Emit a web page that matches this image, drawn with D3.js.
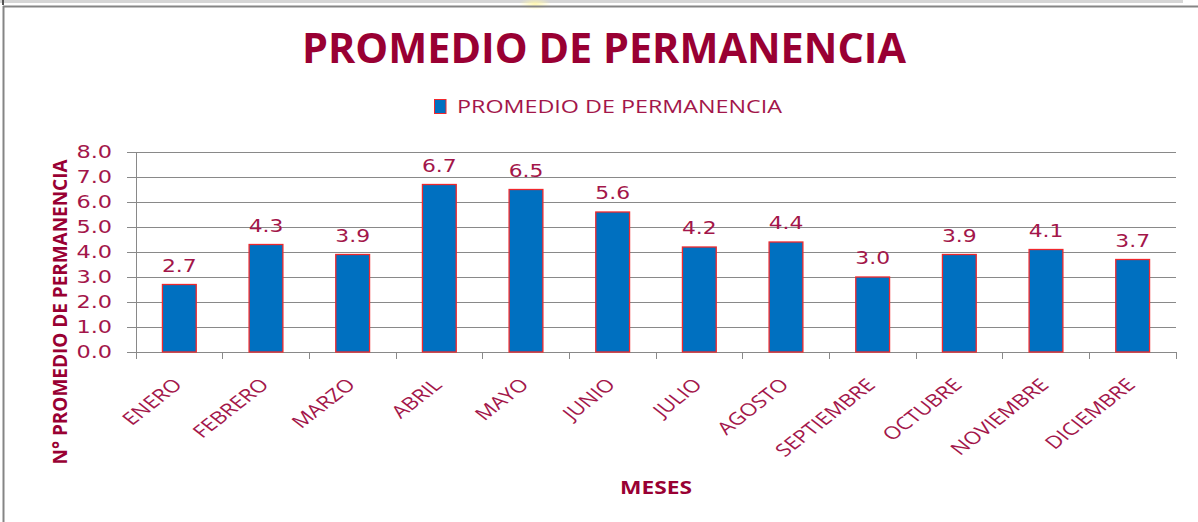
<!DOCTYPE html>
<html>
<head>
<meta charset="utf-8">
<script src="https://cdn.jsdelivr.net/npm/d3@7"></script>
<style>
  html, body { margin: 0; padding: 0; background: #ffffff; }
  svg { display: block; }
</style>
</head>
<body>
<script>
// Monthly average length of stay
const months = ["ENERO", "FEBRERO", "MARZO", "ABRIL", "MAYO", "JUNIO",
                "JULIO", "AGOSTO", "SEPTIEMBRE", "OCTUBRE", "NOVIEMBRE", "DICIEMBRE"];
const promedio = [2.7, 4.3, 3.9, 6.7, 6.5, 5.6, 4.2, 4.4, 3.0, 3.9, 4.1, 3.7];
const yTicks = [0, 1, 2, 3, 4, 5, 6, 7, 8];

const chartTitle = "PROMEDIO DE PERMANENCIA";
const seriesName = "PROMEDIO DE PERMANENCIA";
const yTitle = "N° PROMEDIO DE PERMANENCIA";
const xTitle = "MESES";

const W = 1198, H = 522;
const plot = { left: 136, right: 1176, top: 152, bottom: 352 };
const stretch = 1.28;               // wide rendering of glyphs
const darkRed = "#990033";
const labelRed = "#A3164A";

const svg = d3.select("body").append("svg")
  .attr("width", W).attr("height", H);

// Frame around the chart
svg.append("rect").attr("x", 0).attr("y", 0).attr("width", 1183).attr("height", 3)
  .attr("fill", "#d6d6d6");
svg.append("rect").attr("x", 2).attr("y", 0).attr("width", 2).attr("height", 5)
  .attr("fill", "#555");
const glowGrad = svg.append("defs").append("radialGradient").attr("id", "glow");
glowGrad.append("stop").attr("offset", "0%").attr("stop-color", "#fff7a8").attr("stop-opacity", 0.9);
glowGrad.append("stop").attr("offset", "100%").attr("stop-color", "#fff7a8").attr("stop-opacity", 0);
svg.append("ellipse").attr("cx", 535).attr("cy", 4).attr("rx", 16).attr("ry", 6)
  .attr("fill", "url(#glow)");
svg.append("line").attr("x1", 3).attr("x2", W).attr("y1", 6.5).attr("y2", 6.5)
  .attr("stroke", "#858585").attr("stroke-width", 2);
svg.append("line").attr("x1", 3.5).attr("x2", 3.5).attr("y1", 6).attr("y2", H)
  .attr("stroke", "#858585").attr("stroke-width", 2);

// Scales
const x = d3.scaleBand().domain(months).range([plot.left, plot.right]).padding(0);
const y = d3.scaleLinear().domain([0, 8]).range([plot.bottom, plot.top]);
const barW = x.bandwidth() * 0.39;

// Gridlines and y-axis ticks
const yAxis = d3.axisLeft(y).tickValues(yTicks).tickSize(-(plot.right - plot.left)).tickFormat("");
const gy = svg.append("g").attr("transform", `translate(${plot.left},0)`).call(yAxis);
gy.select(".domain").remove();
gy.selectAll(".tick line").attr("stroke", "#898989").attr("stroke-width", 1)
  .attr("x1", -9).attr("shape-rendering", "crispEdges");

// Y axis line
svg.append("line").attr("x1", plot.left).attr("x2", plot.left)
  .attr("y1", plot.top).attr("y2", plot.bottom + 7)
  .attr("stroke", "#898989").attr("shape-rendering", "crispEdges");

// X axis with ticks at category boundaries
svg.append("line").attr("x1", plot.left).attr("x2", plot.right)
  .attr("y1", plot.bottom).attr("y2", plot.bottom)
  .attr("stroke", "#898989").attr("shape-rendering", "crispEdges");
svg.append("g").selectAll("line")
  .data(months.concat(["__end"]))
  .join("line")
  .attr("x1", (d, i) => i < months.length ? x(d) : plot.right)
  .attr("x2", (d, i) => i < months.length ? x(d) : plot.right)
  .attr("y1", plot.bottom).attr("y2", plot.bottom + 7)
  .attr("stroke", "#898989").attr("shape-rendering", "crispEdges");

// Y tick labels
svg.append("g").selectAll("text")
  .data(yTicks)
  .join("text")
  .attr("transform", d => `translate(112,${y(d) + 1.5}) scale(${stretch},1)`)
  .attr("text-anchor", "end")
  .attr("dominant-baseline", "middle")
  .attr("font-family", "DejaVu Sans, Verdana, sans-serif")
  .attr("font-size", 17.5)
  .attr("fill", labelRed)
  .text(d => d3.format(".1f")(d));

// Bars
svg.append("g").selectAll("rect")
  .data(promedio)
  .join("rect")
  .attr("x", (d, i) => x(months[i]) + (x.bandwidth() - barW) / 2)
  .attr("y", d => y(d))
  .attr("width", barW)
  .attr("height", d => y(0) - y(d))
  .attr("fill", "#0070C0")
  .attr("stroke", "#f0282d")
  .attr("stroke-width", 1.3);

// Value labels
svg.append("g").selectAll("text")
  .data(promedio)
  .join("text")
  .attr("transform", (d, i) =>
    `translate(${x(months[i]) + x.bandwidth() / 2},${y(d) - 13}) scale(1.18,1)`)
  .attr("text-anchor", "middle")
  .attr("font-family", "DejaVu Sans, Verdana, sans-serif")
  .attr("font-size", 18.5)
  .attr("fill", labelRed)
  .text(d => d3.format(".1f")(d));

// Month labels, rotated
svg.append("g").selectAll("text")
  .data(months)
  .join("text")
  .attr("transform", d =>
    `translate(${x(d) + x.bandwidth() / 2 + 4},386) scale(${stretch},1) rotate(-45)`)
  .attr("text-anchor", "end")
  .attr("font-family", "Open Sans, sans-serif")
  .attr("font-size", 17.5)
  .attr("fill", labelRed)
  .text(d => d);

// Title
svg.append("text")
  .attr("x", 604).attr("y", 63)
  .attr("text-anchor", "middle")
  .attr("font-family", "Open Sans, sans-serif")
  .attr("font-weight", "bold")
  .attr("font-size", 41)
  .attr("textLength", 604).attr("lengthAdjust", "spacingAndGlyphs")
  .attr("fill", darkRed)
  .text(chartTitle);

// Legend
const legend = svg.append("g");
legend.append("rect").attr("x", 434.5).attr("y", 99.5).attr("width", 11.5).attr("height", 14)
  .attr("fill", "#0070C0").attr("stroke", "#f0282d").attr("stroke-width", 1);
legend.append("text")
  .attr("x", 457).attr("y", 113)
  .attr("font-family", "Open Sans, sans-serif")
  .attr("font-size", 18.5)
  .attr("textLength", 325).attr("lengthAdjust", "spacingAndGlyphs")
  .attr("fill", labelRed)
  .text(seriesName);

// Axis titles
svg.append("text")
  .attr("transform", "translate(67,312) rotate(-90)")
  .attr("text-anchor", "middle")
  .attr("font-family", "Open Sans, sans-serif")
  .attr("font-weight", "bold")
  .attr("font-size", 19.5)
  .attr("textLength", 305).attr("lengthAdjust", "spacingAndGlyphs")
  .attr("fill", darkRed)
  .text(yTitle);

svg.append("text")
  .attr("x", 656).attr("y", 494)
  .attr("text-anchor", "middle")
  .attr("font-family", "Open Sans, sans-serif")
  .attr("font-weight", "bold")
  .attr("font-size", 18)
  .attr("textLength", 72).attr("lengthAdjust", "spacingAndGlyphs")
  .attr("fill", darkRed)
  .text(xTitle);
</script>
</body>
</html>
